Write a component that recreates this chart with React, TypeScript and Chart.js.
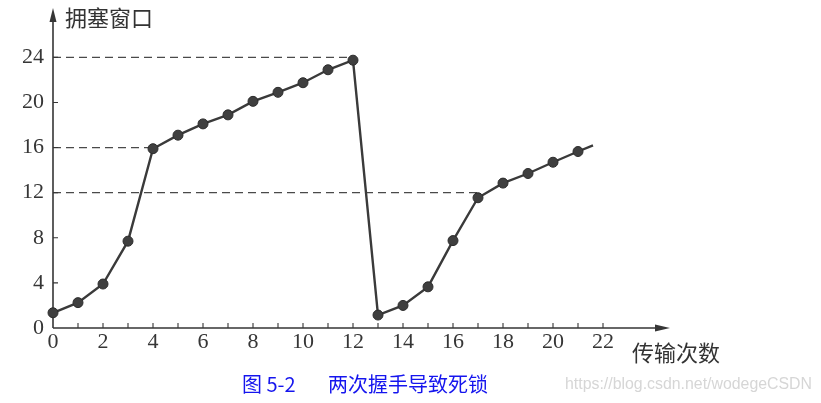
import React, { useEffect, useRef } from "react";
import { Chart, registerables } from "chart.js";

Chart.register(...registerables);

// Data
const transmissions = [0, 1, 2, 3, 4, 5, 6, 7, 8, 9, 10, 11, 12, 13, 14, 15, 16, 17, 18, 19, 20, 21, 21.6];
const cwnd = [1.35, 2.25, 3.9, 7.7, 15.9, 17.1, 18.1, 18.9, 20.1, 20.9, 21.75, 22.9, 23.75, 1.15, 2.0, 3.65, 7.75, 11.55, 12.85, 13.7, 14.7, 15.65, 16.2];
const markerShown = [1, 1, 1, 1, 1, 1, 1, 1, 1, 1, 1, 1, 1, 1, 1, 1, 1, 1, 1, 1, 1, 1, 0];
const thresholdValues = [24, 16, 12];
const thresholdEndX = [12, 4, 17];
const yTickLabels = [0, 4, 8, 12, 16, 20, 24];
const xTickLabels = [0, 2, 4, 6, 8, 10, 12, 14, 16, 18, 20, 22];
const xMinorTicks = [1, 2, 3, 4, 5, 6, 7, 8, 9, 10, 11, 12, 13, 14, 15, 16, 17, 18, 19, 20, 21, 22];
const yAxisTitle = "拥塞窗口";
const xAxisTitle = "传输次数";
const captionLeft = "图 5-2";
const captionRight = "两次握手导致死锁";
const watermark = "https://blog.csdn.net/wodegeCSDN";

const INK = "#363636";
const SERIF = '"Liberation Serif", "DejaVu Serif", serif';
const CJK = '"Noto Sans CJK SC", "Noto Sans", sans-serif';

const decorPlugin = {
  id: "decor",
  beforeDatasetsDraw(chart: any) {
    const ctx = chart.ctx;
    const xs = chart.scales.x;
    const ys = chart.scales.y;
    const x0 = xs.getPixelForValue(0);
    const y0 = ys.getPixelForValue(0);
    ctx.save();
    // dashed threshold lines
    ctx.strokeStyle = "#4a4a4a";
    ctx.lineWidth = 1.2;
    ctx.setLineDash([8, 5]);
    thresholdValues.forEach((v, i) => {
      const py = ys.getPixelForValue(v);
      ctx.beginPath();
      ctx.moveTo(x0, py);
      ctx.lineTo(xs.getPixelForValue(thresholdEndX[i]), py);
      ctx.stroke();
    });
    ctx.setLineDash([]);
    // axes
    ctx.strokeStyle = INK;
    ctx.lineWidth = 1.6;
    const top = chart.chartArea.top;
    const right = chart.chartArea.right;
    ctx.beginPath();
    ctx.moveTo(x0, y0);
    ctx.lineTo(x0, top + 6);
    ctx.moveTo(x0, y0);
    ctx.lineTo(right - 6, y0);
    ctx.stroke();
    // arrows
    ctx.fillStyle = INK;
    ctx.beginPath();
    ctx.moveTo(x0, top - 2);
    ctx.lineTo(x0 - 3.5, top + 12);
    ctx.lineTo(x0 + 3.5, top + 12);
    ctx.closePath();
    ctx.fill();
    ctx.beginPath();
    ctx.moveTo(right + 2, y0);
    ctx.lineTo(right - 13, y0 - 3.5);
    ctx.lineTo(right - 13, y0 + 3.5);
    ctx.closePath();
    ctx.fill();
    // ticks
    ctx.lineWidth = 1.1;
    ctx.beginPath();
    xMinorTicks.forEach((v) => {
      const px = xs.getPixelForValue(v);
      ctx.moveTo(px, y0);
      ctx.lineTo(px, y0 - 5);
    });
    yTickLabels.forEach((v) => {
      if (v === 0) return;
      const py = ys.getPixelForValue(v);
      ctx.moveTo(x0, py);
      ctx.lineTo(x0 + 5, py);
    });
    ctx.stroke();
    ctx.restore();
  },
  afterDraw(chart: any) {
    const ctx = chart.ctx;
    ctx.save();
    ctx.textBaseline = "middle";
    ctx.textAlign = "left";
    ctx.fillStyle = "#333";
    ctx.font = `22px ${CJK}`;
    ctx.fillText(yAxisTitle, 65, 18);
    ctx.fillText(xAxisTitle, 632, 353);
    ctx.fillStyle = "#1515ee";
    ctx.font = `20px ${CJK}`;
    ctx.fillText(captionLeft, 242, 384);
    ctx.fillText(captionRight, 328, 384);
    ctx.fillStyle = "#d6d6d6";
    ctx.font = `16px "Liberation Sans", Arial, sans-serif`;
    ctx.fillText(watermark, 565, 385, 247);
    ctx.restore();
  },
};

export default function App() {
  const ref = useRef<HTMLCanvasElement>(null);
  useEffect(() => {
    if (!ref.current) return;
    const chart = new Chart(ref.current, {
      type: "line",
      data: {
        datasets: [
          {
            data: transmissions.map((x, i) => ({ x, y: cwnd[i] })),
            borderColor: "#3a3a3a",
            borderWidth: 2.4,
            pointRadius: markerShown.map((m) => (m ? 5 : 0)),
            pointBackgroundColor: "#3f3f3f",
            pointBorderColor: "#2c2c2c",
            pointBorderWidth: 1,
            tension: 0,
            clip: false as any,
          },
        ],
      },
      options: {
        responsive: false,
        animation: false,
        events: [],
        layout: { padding: { left: 0, top: 10, right: 153, bottom: 0 } },
        plugins: { legend: { display: false }, tooltip: { enabled: false }, title: { display: false } },
        scales: {
          x: {
            type: "linear",
            min: 0,
            max: 24.6,
            afterFit: (s: any) => {
              s.height = 75;
              s.paddingLeft = 0;
              s.paddingRight = 0;
            },
            grid: { display: false, drawTicks: false },
            border: { display: false },
            ticks: {
              stepSize: 1,
              autoSkip: false,
              maxRotation: 0,
              padding: 1,
              color: INK,
              font: { family: SERIF, size: 22 },
              callback: (v: any) => (xTickLabels.includes(Number(v)) ? String(v) : ""),
            },
          },
          y: {
            type: "linear",
            min: 0,
            max: 28.2,
            afterFit: (s: any) => {
              s.width = 53;
              s.paddingTop = 0;
              s.paddingBottom = 0;
            },
            grid: { display: false, drawTicks: false },
            border: { display: false },
            ticks: {
              stepSize: 4,
              padding: 9,
              color: INK,
              font: { family: SERIF, size: 22 },
              callback: (v: any) => (yTickLabels.includes(Number(v)) ? String(v) : ""),
            },
          },
        },
      },
      plugins: [decorPlugin],
    });
    return () => chart.destroy();
  }, []);
  return (
    <div style={{ position: "fixed", left: 0, top: 0, width: 821, height: 403, background: "#fff" }}>
      <canvas ref={ref} width={821} height={403} style={{ display: "block" }} />
    </div>
  );
}
